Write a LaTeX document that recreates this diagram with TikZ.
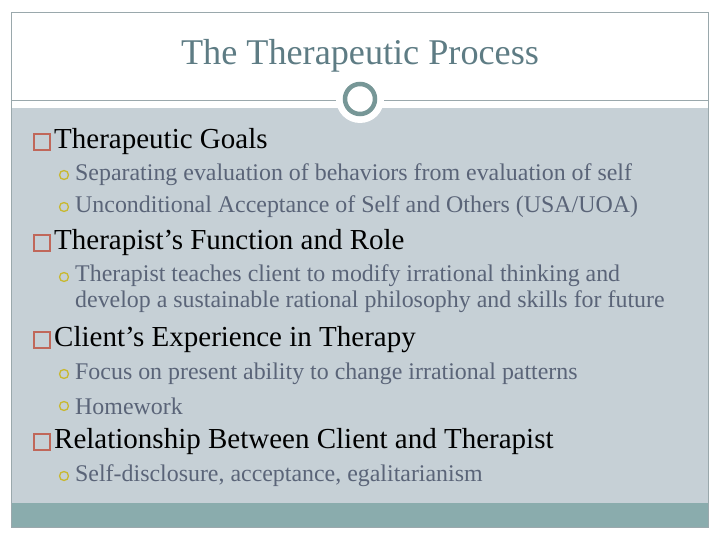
\documentclass[tikz,border=0pt]{standalone}
\usepackage{fontspec}
\setmainfont{Liberation Serif}
\definecolor{bgc}{HTML}{C6D0D6}
\definecolor{band}{HTML}{8AACAD}
\definecolor{ring}{HTML}{779797}
\definecolor{titc}{HTML}{5E7C84}
\definecolor{subc}{HTML}{5A6478}
\definecolor{sq}{HTML}{C0675A}
\definecolor{yel}{HTML}{C8B830}
\definecolor{frame}{HTML}{9AA8AC}
\begin{document}
\begin{tikzpicture}[x=1pt,y=-1pt,
  head/.style={anchor=west,inner sep=0pt,font=\fontsize{29}{31}\selectfont,text=black},
  sub/.style={anchor=west,inner sep=0pt,font=\fontsize{23.9}{26}\selectfont,text=subc,align=left},
  sqb/.style={draw=sq,line width=1.3pt,minimum size=16pt,inner sep=0pt},
  ringb/.style={circle,draw=yel,line width=1.3pt,minimum size=9pt,inner sep=0pt}]
\useasboundingbox (0,0) rectangle (720,540);
\fill[white] (0,0) rectangle (720,540);
\fill[bgc] (11,108) rectangle (708,503);
\fill[band] (11,503) rectangle (708,527);
\draw[frame,line width=0.8pt] (11,12) rectangle (708,527);
\draw[frame,line width=0.8pt] (11,100) -- (708,100);
\node[circle,fill=white,minimum size=48pt,inner sep=0pt] (c0) at (360,99) {};
\node[circle,draw=ring,line width=4.5pt,minimum size=30pt,inner sep=0pt] (c1) at (360,99) {};
\node[font=\fontsize{36.2}{38}\selectfont,text=titc] (title) at (360,56) {The Therapeutic Process};
\node[sqb] (s1) at (42,142) {}; \node[head] (h1) at (54,142) {Therapeutic Goals};
\node[ringb] (r1) at (64,175) {}; \node[sub] (t1) at (75,175) {Separating evaluation of behaviors from evaluation of self};
\node[ringb] (r2) at (64,207) {}; \node[sub] (t2) at (75,207) {Unconditional Acceptance of Self and Others (USA/UOA)};
\node[sqb] (s2) at (42,243) {}; \node[head] (h2) at (54,243) {Therapist’s Function and Role};
\node[ringb] (r3) at (64,277) {}; \node[sub,anchor=north west] (t3) at (75,264) {Therapist teaches client to modify irrational thinking and\\develop a sustainable rational philosophy and skills for future};
\node[sqb] (s3) at (42,340) {}; \node[head] (h3) at (54,340) {Client’s Experience in Therapy};
\node[ringb] (r4) at (64,374) {}; \node[sub] (t4) at (75,374) {Focus on present ability to change irrational patterns};
\node[ringb] (r5) at (64,406) {}; \node[sub] (t5) at (75,406) {Homework};
\node[sqb] (s4) at (42,442) {}; \node[head] (h4) at (54,442) {Relationship Between Client and Therapist};
\node[ringb] (r6) at (64,476) {}; \node[sub] (t6) at (75,476) {Self-disclosure, acceptance, egalitarianism};
\end{tikzpicture}
\end{document}
